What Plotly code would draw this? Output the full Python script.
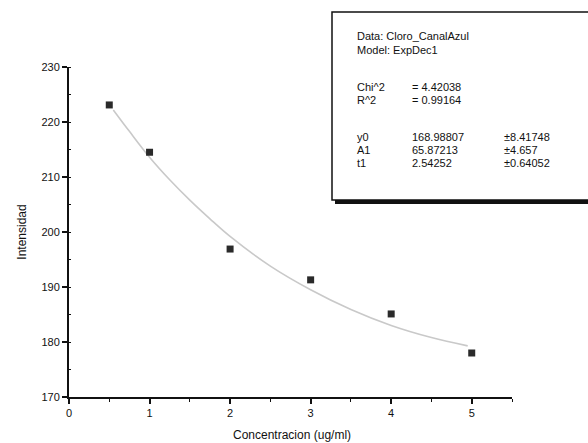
import plotly.graph_objects as go

# Data
conc = [0.5, 1, 2, 3, 4, 5]
intens = [223.1, 214.5, 196.9, 191.3, 185.1, 178.0]

# Fitted curve (ExpDec1)
fit_x = [0.55, 0.75, 1.0, 1.25, 1.5, 1.75, 2.0, 2.5, 3.0, 3.5, 4.0, 4.5, 4.95]
fit_y = [222.2, 218.3, 213.6, 209.5, 205.8, 202.4, 199.2, 193.8, 189.5, 185.9, 183.0, 180.8, 179.3]

x_ticks = [0, 1, 2, 3, 4, 5]
y_ticks = [170, 180, 190, 200, 210, 220, 230]

box_lines = [
    ("Data: Cloro_CanalAzul", "", ""),
    ("Model: ExpDec1", "", ""),
    ("Chi^2", "= 4.42038", ""),
    ("R^2", "= 0.99164", ""),
    ("y0", "168.98807", "±8.41748"),
    ("A1", "65.87213", "±4.657"),
    ("t1", "2.54252", "±0.64052"),
]

W, H = 588, 443
L, R, T, B = 69, 512, 67, 397  # plot area in pixels

def px(x):
    return (x - L) / (R - L)

def py(y):
    return (B - y) / (B - T)

fig = go.Figure()
fig.add_trace(go.Scatter(x=fit_x, y=fit_y, mode="lines", line=dict(color="#c9c9c9", width=1.6, shape="spline"),
                         hoverinfo="skip", showlegend=False))
fig.add_trace(go.Scatter(x=conc, y=intens, mode="markers",
                         marker=dict(symbol="square", size=7, color="#2a2a2a"), showlegend=False))

font = "Liberation Sans, Arial, sans-serif"
ink = "#111111"
fig.update_layout(
    width=W, height=H,
    margin=dict(l=L, r=W - R, t=T, b=H - B),
    paper_bgcolor="white", plot_bgcolor="white",
    font=dict(family=font, color=ink, size=11),
    showlegend=False,
    xaxis=dict(range=[0, 5.5], tickvals=x_ticks, ticktext=[str(v) for v in x_ticks],
               showgrid=False, zeroline=False, showline=True, linecolor=ink, linewidth=2,
               ticks="outside", ticklen=5, tickwidth=1.5, tickcolor=ink,
               minor=dict(dtick=0.5, ticks="outside", ticklen=3, tickcolor=ink, tickwidth=1),
               tickfont=dict(size=11, family=font, color=ink), automargin=False),
    yaxis=dict(range=[170, 230], tickvals=y_ticks, ticktext=[str(v) for v in y_ticks],
               showgrid=False, zeroline=False, showline=True, linecolor=ink, linewidth=2,
               ticks="outside", ticklen=5, tickwidth=1.5, tickcolor=ink,
               minor=dict(dtick=5, ticks="inside", ticklen=2, tickcolor=ink, tickwidth=1),
               tickfont=dict(size=11, family=font, color=ink), automargin=False,
               title=dict(text="Intensidad", font=dict(size=12, family=font, color=ink), standoff=12)),
)

# x-axis title placed below the tick labels
fig.add_annotation(x=px(292), y=py(435), xref="paper", yref="paper", text="Concentracion (ug/ml)",
                   showarrow=False, xanchor="center", yanchor="middle",
                   font=dict(size=12, family=font, color=ink))

# Fit-results box with Origin-style shadow
bx0, by0, bx1, by1 = 332, 12, 600, 200
fig.add_shape(type="rect", xref="paper", yref="paper",
              x0=px(bx0 + 3), x1=px(bx1 + 3), y0=py(by1 + 4), y1=py(by0 + 4),
              fillcolor=ink, line=dict(width=0), layer="above")
fig.add_shape(type="rect", xref="paper", yref="paper",
              x0=px(bx0), x1=px(bx1), y0=py(by1), y1=py(by0),
              fillcolor="white", line=dict(color=ink, width=1.5), layer="above")

line_y = [36, 50, 87, 100, 137, 150, 163]
col_x = [355, 410, 502]
for (a, b, c), yy in zip(box_lines, line_y):
    for txt, xx in zip((a, b, c), col_x):
        if not txt:
            continue
        fig.add_annotation(x=px(xx), y=py(yy), xref="paper", yref="paper", text=txt,
                           showarrow=False, xanchor="left", yanchor="middle",
                           font=dict(size=11, family=font, color=ink))

fig.write_html("out.html")
